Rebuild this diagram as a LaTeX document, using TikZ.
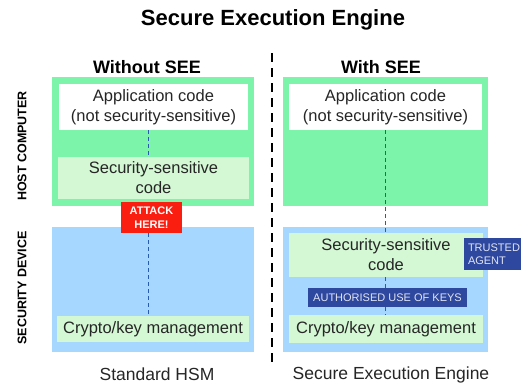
\documentclass[tikz,border=0pt]{standalone}
\usepackage{fontspec}
\setmainfont{Liberation Sans}
\definecolor{hostgreen}{RGB}{124,244,170}
\definecolor{palegreen}{RGB}{212,247,212}
\definecolor{devblue}{RGB}{166,216,255}
\definecolor{attackred}{RGB}{250,30,16}
\definecolor{agentblue}{RGB}{46,72,160}
\definecolor{linkblue}{RGB}{40,90,175}
\begin{document}
\begin{tikzpicture}[x=1pt,y=-1pt,
  box/.style={draw=none,rectangle,inner sep=0pt,align=center,text=black!85},
  bodytext/.style={font=\fontsize{16.5}{20}\selectfont},
  link/.style={draw=linkblue,line width=0.9pt,dash pattern=on 4pt off 3pt},
  tag/.style={box,font=\fontsize{11}{13}\selectfont,text=white!85!agentblue,fill=agentblue}
]
\useasboundingbox (0,0) rectangle (521,386);
\fill[white] (0,0) rectangle (521,386);

\node[font=\bfseries\fontsize{22}{26}\selectfont] (title) at (273,20) {Secure Execution Engine};
\node[font=\bfseries\fontsize{18}{21}\selectfont] (wo) at (147,67) {Without SEE};
\node[font=\bfseries\fontsize{18}{21}\selectfont] (w) at (381,67) {With SEE};

\node[rotate=90,font=\bfseries\fontsize{12.5}{15}\selectfont] (hostlbl) at (22,146) {HOST COMPUTER};
\node[rotate=90,font=\bfseries\fontsize{12.5}{15}\selectfont] (devlbl) at (22,288) {SECURITY DEVICE};

% separator
\coordinate (sepA) at (272,53);
\coordinate (sepB) at (272,366);
\draw[line width=2.6pt,dash pattern=on 9pt off 6pt] (sepA) -- (sepB);

% ---------- left ----------
\node[box,fill=hostgreen,minimum width=202pt,minimum height=129pt] (lhost) at (153,141.5) {};
\node[box,fill=devblue,minimum width=202pt,minimum height=125pt] (ldev) at (153,289.5) {};
\node[box,fill=white,minimum width=189pt,minimum height=46pt,bodytext] (lapp) at (153.5,107) {Application code\\(not security-sensitive)};
\node[box,fill=palegreen,minimum width=191pt,minimum height=42pt,bodytext] (lsec) at (153.5,178) {Security-sensitive\\code};
\node[box,fill=palegreen,minimum width=192pt,minimum height=26pt,bodytext] (lcry) at (153,329) {Crypto/key management};
\node[box,fill=attackred,text=white,minimum width=61pt,minimum height=31pt,font=\bfseries\fontsize{11}{13.5}\selectfont] (attack) at (151.5,217.5) {ATTACK\\HERE!};
\draw[link] (lapp.south -| 148,0) -- (lsec.north -| 148,0);
\draw[link] (attack.south -| 148,0) -- (lcry.north -| 148,0);

% ---------- right ----------
\node[box,fill=hostgreen,minimum width=205pt,minimum height=129pt] (rhost) at (385.5,141.5) {};
\node[box,fill=devblue,minimum width=205pt,minimum height=125pt] (rdev) at (385.5,289.5) {};
\node[box,fill=white,minimum width=193pt,minimum height=46pt,bodytext] (rapp) at (385.5,107) {Application code\\(not security-sensitive)};
\node[box,fill=palegreen,minimum width=194pt,minimum height=44pt,bodytext] (rsec) at (386,255) {Security-sensitive\\code};
\node[box,fill=palegreen,minimum width=194pt,minimum height=28pt,bodytext] (rcry) at (386,329) {Crypto/key management};
\node[tag,minimum width=159pt,minimum height=19pt] (auth) at (387.5,297.5) {AUTHORISED USE OF KEYS};
\node[tag,minimum width=57pt,minimum height=32pt,align=left,text width=49pt] (agent) at (492.5,254) {TRUSTED\\AGENT};
\draw[link] (rapp.south -| 385,0) -- (rsec.north -| 385,0);
\draw[link] (rsec.south -| 385,0) -- (auth.north -| 385,0);
\draw[link] (auth.south -| 385,0) -- (rcry.north -| 385,0);

% bottom captions
\node[font=\fontsize{17.5}{20}\selectfont,text=black!85] (capL) at (157,374.5) {Standard HSM};
\node[font=\fontsize{17.5}{20}\selectfont,text=black!85] (capR) at (391,374.5) {Secure Execution Engine};
\end{tikzpicture}
\end{document}
